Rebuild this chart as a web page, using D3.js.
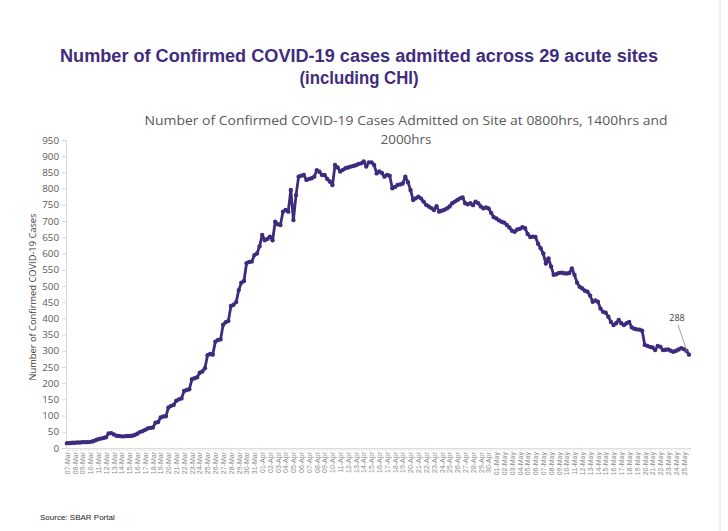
<!DOCTYPE html>
<html>
<head>
<meta charset="utf-8">
<script src="https://cdn.jsdelivr.net/npm/d3@7/dist/d3.min.js"></script>
<style>
  body { margin: 0; background: #fff; }
  svg { display: block; }
</style>
</head>
<body>
<script>
var W = 728, H = 531;

// one label per day, three readings per day (0800, 1400, 2000)
var dayLabels = [
  "07-Mar","08-Mar","09-Mar","10-Mar","11-Mar","12-Mar","13-Mar","14-Mar","15-Mar","16-Mar",
  "17-Mar","18-Mar","19-Mar","20-Mar","21-Mar","22-Mar","23-Mar","24-Mar","25-Mar","26-Mar",
  "27-Mar","28-Mar","29-Mar","30-Mar","31-Mar","01-Apr","02-Apr","03-Apr","04-Apr","05-Apr",
  "06-Apr","07-Apr","08-Apr","09-Apr","10-Apr","11-Apr","12-Apr","13-Apr","14-Apr","15-Apr",
  "16-Apr","17-Apr","18-Apr","19-Apr","20-Apr","21-Apr","22-Apr","23-Apr","24-Apr","25-Apr",
  "26-Apr","27-Apr","28-Apr","29-Apr","30-Apr","01-May","02-May","03-May","04-May","05-May",
  "06-May","07-May","08-May","09-May","10-May","11-May","12-May","13-May","14-May","15-May",
  "16-May","17-May","18-May","19-May","20-May","21-May","22-May","23-May","24-May","25-May"
];

var admitted = [
  15,15,16, 16,17,17, 18,18,18, 19,21,24, 27,29,31, 33,45,46, 42,38,37, 36,36,37, 37,38,40, 44,49,52,
  56,60,62, 63,78,80, 94,97,98, 125,130,133, 146,150,153, 176,179,181, 212,215,218, 232,236,246, 286,290,288, 328,333,335,
  380,388,392, 438,442,450, 487,510,515, 570,574,575, 595,600,622, 657,641,645, 652,641,698, 690,688,729, 734,729,796, 703,780,837,
  840,842,827, 830,832,837, 857,852,842, 842,830,822, 811,873,865, 853,858,863, 865,868,870, 872,876,878, 884,868,881, 881,873,847,
  853,848,837, 842,840,801, 805,811,813, 816,837,820, 796,765,770, 775,770,760, 750,745,740, 734,746,729, 732,735,739, 745,755,760,
  765,770,773, 755,752,755, 749,760,755, 745,739,742, 739,725,712, 708,702,698, 695,688,680, 670,667,674, 676,681,678, 660,651,652,
  651,630,616, 600,569,585, 560,534,536, 540,541,539, 538,540,554, 534,510,497, 492,485,482, 470,451,455, 451,430,420, 417,405,389,
  379,385,395, 385,379,385, 389,372,368, 366,365,362, 318,315,312, 310,302,315, 312,302,303, 304,300,297, 300,304,308, 305,300,288
];

var yTicks = d3.range(0, 951, 50);

var lineColor = "#3e2b7d";

var svg = d3.select("body").append("svg")
  .attr("width", W)
  .attr("height", H);

svg.append("rect").attr("width", W).attr("height", H).attr("fill", "#fff");

// faint page edge on the right
svg.append("line")
  .attr("x1", 720).attr("x2", 720).attr("y1", 0).attr("y2", H)
  .attr("stroke", "#e4e4e4").attr("stroke-width", 1);

// main title
svg.append("text")
  .attr("x", 359).attr("y", 62)
  .attr("text-anchor", "middle")
  .attr("font-family", "'Liberation Sans Narrow', 'Arial Narrow', 'Liberation Sans', Arial, sans-serif")
  .attr("font-weight", "bold")
  .attr("font-size", 18)
  .attr("fill", "#3f2c7c")
  .attr("textLength", 598)
  .attr("lengthAdjust", "spacingAndGlyphs")
  .text("Number of Confirmed COVID-19 cases admitted across 29 acute sites");
svg.append("text")
  .attr("x", 359).attr("y", 84)
  .attr("text-anchor", "middle")
  .attr("font-family", "'Liberation Sans Narrow', 'Arial Narrow', 'Liberation Sans', Arial, sans-serif")
  .attr("font-weight", "bold")
  .attr("font-size", 18)
  .attr("fill", "#3f2c7c")
  .attr("textLength", 119)
  .attr("lengthAdjust", "spacingAndGlyphs")
  .text("(including CHI)");

// chart title (two lines)
svg.append("text")
  .attr("x", 406).attr("y", 125)
  .attr("text-anchor", "middle")
  .attr("font-family", "'Open Sans', 'Noto Sans', sans-serif")
  .attr("font-size", 13.5)
  .attr("fill", "#595959")
  .attr("textLength", 523)
  .attr("lengthAdjust", "spacingAndGlyphs")
  .text("Number of Confirmed COVID-19 Cases Admitted on Site at 0800hrs, 1400hrs and");
svg.append("text")
  .attr("x", 406).attr("y", 144)
  .attr("text-anchor", "middle")
  .attr("font-family", "'Open Sans', 'Noto Sans', sans-serif")
  .attr("font-size", 13.5)
  .attr("fill", "#595959")
  .text("2000hrs");

var x = d3.scaleLinear()
  .domain([0, admitted.length - 1])
  .range([67, 689]);

var y = d3.scaleLinear()
  .domain([0, 950])
  .range([448, 140]);

// y axis
var yAxis = svg.append("g")
  .attr("transform", "translate(66,0)")
  .call(d3.axisLeft(y).tickValues(yTicks).tickSize(4).tickPadding(3));
yAxis.select(".domain").attr("stroke", "#d9d9d9");
yAxis.selectAll(".tick line").attr("stroke", "#d9d9d9");
yAxis.selectAll("text")
  .attr("font-family", "'Open Sans', 'Noto Sans', sans-serif")
  .attr("font-size", 9.8)
  .attr("fill", "#595959");

svg.append("text")
  .attr("transform", "translate(36,297) rotate(-90)")
  .attr("text-anchor", "middle")
  .attr("font-family", "'Open Sans', 'Noto Sans', sans-serif")
  .attr("font-size", 9.3)
  .attr("fill", "#404040")
  .text("Number of Confirmed COVID-19 Cases");

// x axis: a tick per reading, a label per day
var xAxis = svg.append("g")
  .attr("transform", "translate(0,448)")
  .call(d3.axisBottom(x)
    .tickValues(d3.range(0, admitted.length))
    .tickSize(3)
    .tickFormat(function(i) { return i % 3 === 0 ? dayLabels[i / 3] : ""; }));
xAxis.select(".domain").attr("stroke", "#d9d9d9").attr("d", "M66,0.5H691");
xAxis.selectAll(".tick line").attr("stroke", "#e3e3e3");
xAxis.selectAll("text")
  .attr("font-family", "'Liberation Sans', Arial, sans-serif")
  .attr("font-size", 7)
  .attr("fill", "#8a8a8a")
  .attr("text-anchor", "end")
  .attr("transform", "rotate(-90)")
  .attr("x", -4)
  .attr("y", 0)
  .attr("dy", "0.32em");

// data line with markers
var line = d3.line()
  .x(function(d, i) { return x(i); })
  .y(function(d) { return y(d); });

svg.append("path")
  .datum(admitted)
  .attr("d", line)
  .attr("fill", "none")
  .attr("stroke", lineColor)
  .attr("stroke-width", 2.8)
  .attr("stroke-linejoin", "round");

svg.selectAll("circle.pt")
  .data(admitted)
  .enter()
  .append("circle")
  .attr("class", "pt")
  .attr("cx", function(d, i) { return x(i); })
  .attr("cy", function(d) { return y(d); })
  .attr("r", 2.2)
  .attr("fill", lineColor);

// label for the last reading
var lastI = admitted.length - 1;
var lastV = admitted[lastI];
svg.append("line")
  .attr("x1", x(lastI) - 11).attr("y1", y(lastV) - 30)
  .attr("x2", x(lastI) - 2).attr("y2", y(lastV) - 3)
  .attr("stroke", "#8c8c8c")
  .attr("stroke-width", 0.8);
svg.append("text")
  .attr("x", x(lastI) - 12).attr("y", y(lastV) - 34)
  .attr("text-anchor", "middle")
  .attr("font-family", "'Open Sans', 'Noto Sans', sans-serif")
  .attr("font-size", 9)
  .attr("fill", "#404040")
  .text(lastV);

// source note
svg.append("text")
  .attr("x", 40).attr("y", 520)
  .attr("font-family", "'Liberation Sans', Arial, sans-serif")
  .attr("font-size", 8)
  .attr("fill", "#222")
  .text("Source: SBAR Portal");
</script>
</body>
</html>
